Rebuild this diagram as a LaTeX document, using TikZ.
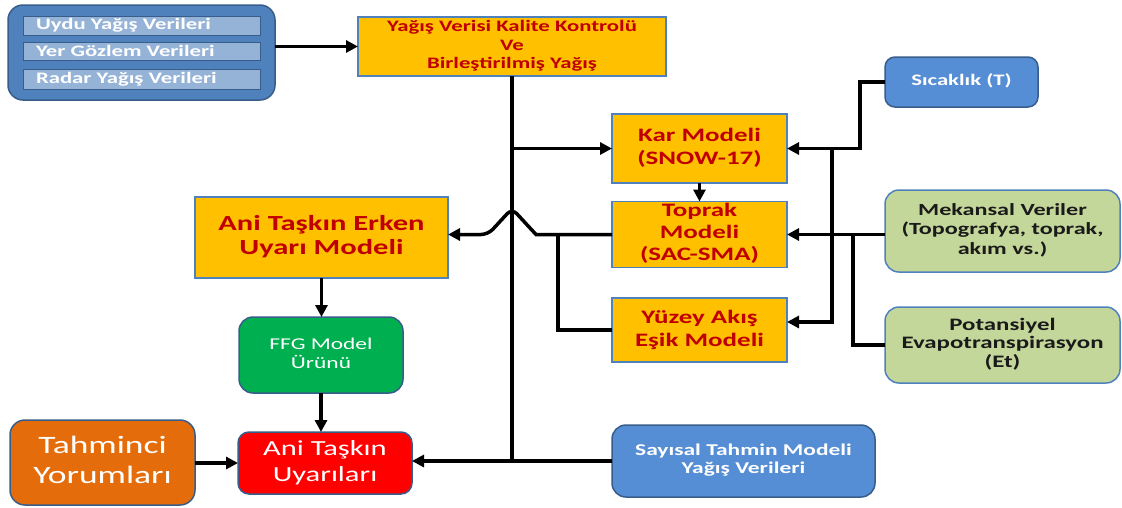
\documentclass[tikz,border=0pt]{standalone}
\usepackage{fontspec}
\usepackage{graphicx}
\setmainfont{Carlito}
\usetikzlibrary{arrows.meta,calc}
\definecolor{oy}{HTML}{FFC000}
\definecolor{rt}{HTML}{C00000}
\definecolor{bb}{HTML}{4F81BD}
\definecolor{db}{HTML}{385D8A}
\definecolor{mb}{HTML}{558ED5}
\definecolor{lb}{HTML}{95B3D7}
\definecolor{gg}{HTML}{00B050}
\definecolor{rr}{HTML}{FF0000}
\definecolor{orr}{HTML}{E46C0A}
\definecolor{lg}{HTML}{C4D79B}
\definecolor{dt}{HTML}{1A1A1A}
\newcommand\T[1]{\scalebox{1.42}[1]{\begin{tabular}{@{}c@{}}#1\end{tabular}}}
\newcommand\TL[1]{\scalebox{1.42}[1]{#1}}
\newcommand\fs[2]{\fontsize{#1}{#2}\selectfont}
\tikzset{
  base/.style={inner sep=0pt, outer sep=0pt, align=center},
  ybox/.style={base, rectangle, fill=oy, draw=bb, line width=1.3pt, text=rt},
  rbox/.style={base, rectangle, rounded corners=12pt, draw=db, line width=1.5pt, text=white},
  inr/.style={base, rectangle, fill=lb, draw=db, line width=1pt, text=white},
  gbox/.style={base, rectangle, rounded corners=14pt, fill=lg, draw=bb, line width=1.5pt, text=dt},
  conn/.style={line width=3.5pt, draw=black},
  trunk/.style={line width=4.5pt, draw=black},
  arr/.style={conn, -{Triangle[length=12pt,width=12pt]}}
}
\begin{document}
\begin{tikzpicture}[x=1pt,y=-1pt]
\useasboundingbox (0,0) rectangle (1122,507);
% input group
\node[rbox, fill=bb, minimum width=267pt, minimum height=95pt, rounded corners=15pt] (inbox) at (141.5,52.5) {};
\node[inr, minimum width=237pt, minimum height=19pt, font=\bfseries\fs{16}{18}] (in1) at (141.5,25.5) {\makebox[211pt][l]{\TL{Uydu Yağış Verileri}}};
\node[inr, minimum width=237pt, minimum height=18pt, font=\bfseries\fs{16}{18}] (in2) at (141.5,51) {\makebox[211pt][l]{\TL{Yer Gözlem Verileri}}};
\node[inr, minimum width=237pt, minimum height=20pt, font=\bfseries\fs{16}{18}] (in3) at (141.5,79) {\makebox[211pt][l]{\TL{Radar Yağış Verileri}}};
% QC
\node[ybox, minimum width=308pt, minimum height=59pt, font=\bfseries\fs{16}{18.5}] (qc) at (512,46.5) {\T{Yağış Verisi Kalite Kontrolü\\Ve\\Birleştirilmiş Yağış}};
% models
\node[ybox, minimum width=175pt, minimum height=69pt, font=\bfseries\fs{19}{23}] (kar) at (699.5,148.5) {\T{Kar Modeli\\(SNOW-17)}};
\node[ybox, minimum width=175pt, minimum height=65pt, font=\bfseries\fs{19}{22}] (toprak) at (699.5,234.5) {\T{Toprak\\Modeli\\(SAC-SMA)}};
\node[ybox, minimum width=175pt, minimum height=64pt, font=\bfseries\fs{19}{23}] (yuzey) at (699.5,330) {\T{Yüzey Akış\\Eşik Modeli}};
% right inputs
\node[rbox, fill=mb, minimum width=153pt, minimum height=50pt, rounded corners=10pt, font=\bfseries\fs{16}{18}] (sic) at (961.5,82) {\T{Sıcaklık (T)}};
\node[gbox, minimum width=235pt, minimum height=82pt, font=\bfseries\fs{17}{19.5}] (mek) at (1002.5,231) {\T{Mekansal Veriler\\(Topografya, toprak,\\akım vs.)}};
\node[gbox, minimum width=235pt, minimum height=76pt, font=\bfseries\fs{17.5}{18.5}] (pot) at (1002.5,345) {\T{Potansiyel\\Evapotranspirasyon\\(Et)}};
% left column
\node[ybox, minimum width=253pt, minimum height=81pt, font=\bfseries\fs{21.5}{24}] (erken) at (321.5,237.5) {\T{Ani Taşkın Erken\\Uyarı Modeli}};
\node[rbox, fill=gg, minimum width=164pt, minimum height=76pt, rounded corners=14pt, font=\fs{16.5}{19}] (ffg) at (321,355) {\T{FFG Model\\Ürünü}};
\node[rbox, fill=rr, minimum width=174pt, minimum height=62pt, rounded corners=11pt, font=\fs{21.5}{26}] (uy) at (325,463) {\T{Ani Taşkın\\Uyarıları}};
\node[rbox, fill=orr, minimum width=185pt, minimum height=85pt, rounded corners=15pt, font=\fs{25}{30}] (tah) at (102.5,462.5) {\T{Tahminci\\Yorumları}};
\node[rbox, fill=mb, minimum width=263pt, minimum height=72pt, rounded corners=14pt, font=\bfseries\fs{16.5}{18}] (say) at (743.5,461) {\T{Sayısal Tahmin Modeli\\Yağış Verileri}};
% helper coordinates
\coordinate (X) at (qc.south |- toprak.west);
\coordinate (sj) at ($(kar.east)+(45,0)$);
\coordinate (pj) at ($(toprak.east)+(66,0)$);
\coordinate (tj) at ($(toprak.west)+(-54,0)$);
% connectors
\draw[arr] (inbox.east |- qc.west) -- (qc.west);
\draw[trunk] (qc.south) -- (qc.south |- say.west);
\draw[arr] (qc.south |- kar.west) -- (kar.west);
\draw[arr] (kar.south) -- (toprak.north);
\draw[arr] (toprak.west) -- ($(X)+(24,0)$) [rounded corners=7pt] -- ($(X)+(0,-26)$) -- ($(X)+(-24,0)$) [sharp corners] -- (erken.east |- toprak.west);
\draw[conn] (yuzey.west) -| (tj);
\draw[arr] (sic.west) -- ++(-25,0) |- (kar.east);
\draw[arr] (sj) |- ([yshift=8pt]yuzey.east);
\draw[arr] (mek.west |- toprak.east) -- (toprak.east);
\draw[conn] (pot.west) -| (pj);
\draw[arr] (erken.south) -- (erken.south |- ffg.north);
\draw[arr] (ffg.south) -- (ffg.south |- uy.north);
\draw[arr] (tah.east |- uy.west) -- (uy.west);
\draw[arr] (say.west) -- (uy.east |- say.west);
\end{tikzpicture}
\end{document}
